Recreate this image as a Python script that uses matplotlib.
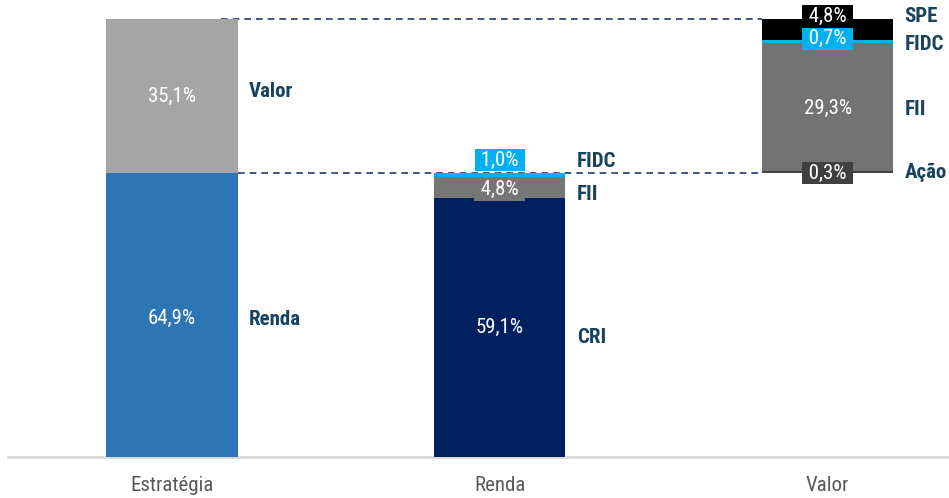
import matplotlib
matplotlib.use("Agg")
import matplotlib.pyplot as plt

# ---- data ----
categories = ['Estratégia', 'Renda', 'Valor']
estrategia_labels = ['Renda', 'Valor']
estrategia_values = [64.9, 35.1]
renda_labels = ['CRI', 'FII', 'FIDC']
renda_values = [59.1, 4.8, 1.0]
valor_labels = ['Ação', 'FII', 'FIDC', 'SPE']
valor_values = [0.3, 29.3, 0.7, 4.8]

# ---- styles ----
plt.rcParams['font.family'] = ['Roboto Condensed', 'IBM Plex Sans Condensed', 'DejaVu Sans']
estrategia_colors = ['#2E75B6', '#A5A5A5']
renda_colors = ['#002060', '#767676', '#00B0F0']
valor_colors = ['#404040', '#737373', '#00B0F0', '#000000']
name_color = '#17435F'
# vertical offsets (data units) of value labels and name labels relative to segment middle
estrategia_val_off = [-0.7, -0.2]
estrategia_name_off = [-1.1, 0.9]
renda_val_off = [0.0, -0.5, 3.4]
renda_name_off = [-2.3, -1.6, 3.0]
valor_val_off = [-0.2, -0.2, 0.7, 3.0]
valor_name_off = [0.0, -0.6, -0.7, 2.9]

fig = plt.figure(figsize=(9.49, 4.98), dpi=100)
ax = fig.add_axes([8 / 949, 41 / 498, 941 / 949, 457 / 498])
ax.set_xlim(-0.5, 2.37)
ax.set_ylim(0, 104.34)

W = 0.4
FS = 15


def fmt(v):
    return f"{v:.1f}".replace('.', ',') + '%'


def draw_stack(x, base, values, labels, colors, voff, noff):
    b = base
    for v, lab, c, vo, no in zip(values, labels, colors, voff, noff):
        ax.bar(x, v, W, bottom=b, color=c, zorder=3, linewidth=0)
        mid = b + v / 2
        if v < 6:
            ax.text(x, mid + vo, ' ' + fmt(v) + ' ', ha='center', va='center',
                    color='white', fontsize=FS, zorder=5,
                    bbox=dict(boxstyle='square,pad=0.08', fc=c, ec='none'))
        else:
            ax.text(x, mid + vo, fmt(v), ha='center', va='center',
                    color='white', fontsize=FS, zorder=5)
        ax.text(x + W / 2 + 0.035, mid + no, lab, ha='left', va='center',
                color=name_color, fontsize=FS, fontweight='bold', zorder=5)
        b += v
    return b


top_e = draw_stack(0, 0, estrategia_values, estrategia_labels, estrategia_colors,
                   estrategia_val_off, estrategia_name_off)
top_r = draw_stack(1, 0, renda_values, renda_labels, renda_colors,
                   renda_val_off, renda_name_off)
top_v = draw_stack(2, top_r, valor_values, valor_labels, valor_colors,
                   valor_val_off, valor_name_off)

# connector dashed lines
ax.plot([0.15, 2 - W / 2], [top_e, top_e], ls=(0, (4, 3)), color='#1F3864',
        lw=1.2, zorder=2)
ax.plot([W / 2, 2 - W / 2], [top_r, top_r], ls=(0, (4, 3)), color='#1F3864',
        lw=1.2, zorder=2)

ax.set_xticks(range(len(categories)))
ax.set_xticklabels(categories, fontsize=FS, color='#595959')
ax.tick_params(axis='x', length=0, pad=14)
ax.set_yticks([])
for s in ['top', 'right', 'left']:
    ax.spines[s].set_visible(False)
ax.spines['bottom'].set_color('#D9D9D9')
ax.spines['bottom'].set_linewidth(2)

fig.savefig('out.png', dpi=100)
